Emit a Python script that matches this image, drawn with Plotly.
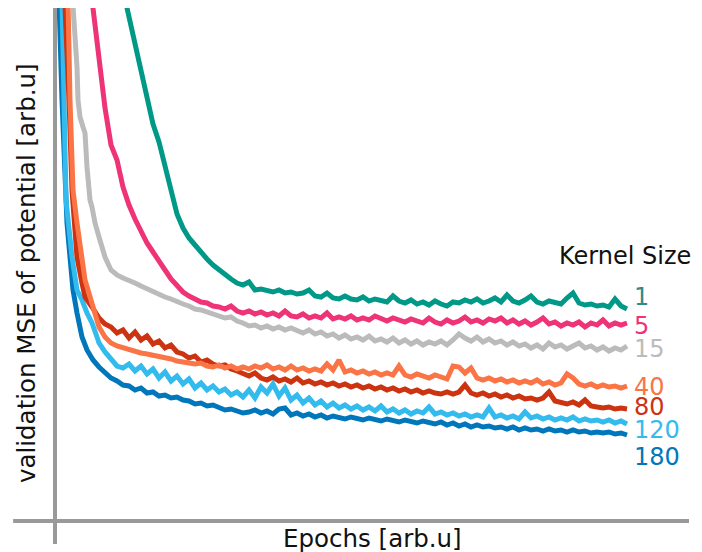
import plotly.graph_objects as go

# Epoch grid shared by the tails of all curves
grid_epochs = list(range(42, 571, 6))

kernel_sizes = ["1", "5", "15", "40", "80", "120", "180"]
colors = ["#009988", "#EE3377", "#BBBBBB", "#FA7445", "#CC3311", "#33BBEE", "#0077BB"]
label_colors = ["#338888", "#EE3377", "#BBBBBB", "#FA7445", "#CC3311", "#33BBEE", "#0077BB"]

# Early (steep) part of each curve: epochs and validation MSE [arb.u]
head_epochs = {
    "1": [],
    "5": [29, 35, 38],
    "15": [13, 16, 18, 20, 21, 23, 26, 28, 30, 33, 35, 38],
    "40": [9, 11, 13, 16, 20, 25, 28, 31, 35, 38],
    "80": [6, 8, 12, 15, 20, 25, 28, 35],
    "120": [3, 5, 9, 15, 20, 25, 30, 35, 40],
    "180": [0, 2, 5, 8, 10, 13, 16, 20, 25, 30, 36],
}
head_mse = {
    "1": [],
    "5": [571, 521, 488],
    "15": [561, 521, 488, 454, 421, 404, 394, 388, 354, 321, 314, 298],
    "40": [561, 521, 421, 331, 298, 264, 241, 231, 218, 204],
    "80": [561, 521, 421, 331, 264, 238, 224, 214],
    "120": [561, 521, 321, 264, 231, 221, 208, 198, 184],
    "180": [561, 521, 421, 326, 298, 264, 231, 208, 184, 171, 161],
}

mse_k1 = [638, 611, 584, 557, 530, 505, 479, 451, 421, 397, 379, 354, 329, 307, 293, 283,
          276, 268, 262, 256, 251, 247, 242, 238, 236, 239, 231, 232, 230, 229, 231, 228,
          229, 227, 228, 231, 225, 224, 228, 223, 222, 225, 222, 221, 224, 220, 222, 221,
          219, 225, 220, 218, 221, 217, 219, 216, 220, 217, 215, 219, 218, 221, 219, 222,
          218, 220, 223, 219, 226, 220, 218, 221, 225, 219, 217, 220, 218, 217, 223, 228,
          218, 216, 217, 215, 216, 214, 222, 215, 212]
mse_k5 = [454, 413, 376, 361, 334, 316, 302, 289, 278, 269, 261, 251, 242, 235, 229, 225,
          222, 219, 218, 215, 214, 212, 215, 210, 208, 210, 207, 209, 206, 208, 205, 210,
          205, 204, 207, 203, 205, 203, 208, 202, 204, 202, 205, 201, 203, 201, 205, 202,
          200, 203, 201, 199, 202, 200, 198, 203, 199, 197, 201, 198, 200, 204, 199, 201,
          198, 202, 200, 203, 198, 201, 197, 200, 196, 199, 203, 197, 199, 195, 198, 196,
          199, 194, 198, 196, 201, 195, 198, 196, 198]
mse_k15 = [284, 264, 251, 246, 243, 241, 238, 235, 232, 230, 227, 224, 222, 219, 217, 215,
           212, 211, 209, 207, 205, 203, 204, 200, 198, 195, 196, 193, 195, 192, 194, 191,
           193, 190, 188, 191, 187, 189, 185, 187, 183, 186, 182, 184, 181, 185, 180, 182,
           179, 183, 178, 181, 177, 180, 176, 179, 177, 180, 176, 181, 187, 183, 180, 184,
           179, 182, 178, 180, 176, 179, 175, 177, 173, 176, 172, 178, 174, 176, 172, 175,
           178, 173, 175, 171, 174, 170, 173, 171, 175]
mse_k40 = [194, 184, 178, 175, 173, 171, 170, 168, 167, 166, 164, 163, 162, 160, 159, 158,
           157, 158, 155, 154, 156, 153, 155, 152, 154, 152, 155, 153, 156, 152, 154, 151,
           155, 151, 153, 150, 152, 150, 157, 151, 161, 149, 151, 148, 150, 147, 149, 146,
           148, 146, 155, 146, 144, 147, 145, 143, 146, 144, 142, 155, 154, 148, 153, 143,
           141, 143, 140, 142, 139, 141, 138, 140, 138, 141, 137, 139, 136, 138, 147, 143,
           137, 135, 137, 134, 136, 134, 135, 133, 135]
mse_k80 = [203, 197, 194, 188, 191, 183, 189, 181, 185, 177, 180, 173, 176, 169, 167, 163,
           165, 159, 161, 157, 155, 156, 152, 150, 147, 145, 148, 143, 141, 144, 140, 142,
           139, 143, 138, 140, 137, 139, 136, 138, 135, 137, 134, 136, 133, 135, 132, 134,
           131, 133, 130, 132, 129, 131, 128, 130, 128, 127, 129, 127, 129, 136, 128, 126,
           128, 125, 127, 124, 126, 123, 125, 122, 123, 121, 123, 129, 120, 118, 117, 119,
           116, 121, 115, 114, 113, 114, 112, 113, 112]
mse_k120 = [178, 169, 161, 155, 153, 157, 150, 155, 147, 152, 143, 149, 140, 145, 137, 142,
            133, 138, 131, 135, 129, 132, 126, 129, 124, 131, 123, 134, 128, 137, 125, 133,
            121, 126, 118, 123, 116, 120, 114, 118, 113, 116, 112, 115, 111, 114, 110, 115,
            109, 112, 108, 111, 107, 110, 108, 114, 107, 109, 106, 108, 105, 107, 104, 106,
            104, 113, 104, 106, 103, 105, 102, 109, 103, 105, 102, 104, 101, 103, 101, 104,
            100, 102, 100, 101, 99, 101, 98, 100, 97]
mse_k180 = [154, 148, 143, 140, 136, 135, 131, 133, 128, 129, 125, 126, 123, 124, 121, 120,
            117, 118, 115, 116, 113, 111, 112, 110, 108, 109, 111, 108, 110, 107, 112, 113,
            106, 108, 105, 107, 104, 106, 103, 105, 104, 102, 104, 103, 101, 103, 102, 100,
            102, 101, 99, 101, 100, 98, 100, 99, 97, 99, 96, 98, 95, 97, 94, 96,
            94, 95, 93, 94, 92, 94, 91, 93, 91, 92, 90, 92, 90, 91, 89, 91,
            89, 90, 88, 89, 88, 89, 87, 88, 86]

tails = {"1": mse_k1, "5": mse_k5, "15": mse_k15, "40": mse_k40,
         "80": mse_k80, "120": mse_k120, "180": mse_k180}

label_mse = [224, 195, 172, 134, 114, 91, 64]
label_epoch = 575

fig = go.Figure()
# draw largest kernel first so smaller kernels sit on top
for k, c in reversed(list(zip(kernel_sizes, colors))):
    x = head_epochs[k] + grid_epochs
    y = head_mse[k] + tails[k]
    fig.add_trace(go.Scatter(x=x, y=y, mode="lines",
                             line=dict(color=c, width=5, shape="linear"),
                             showlegend=False, hoverinfo="skip"))

FONT = "DejaVu Sans"
for k, lc, ym in zip(kernel_sizes, label_colors, label_mse):
    fig.add_annotation(x=label_epoch, y=ym, xref="x", yref="y", text=k, showarrow=False,
                       xanchor="left", yanchor="middle",
                       font=dict(family=FONT, size=24, color=lc))

fig.add_annotation(x=500, y=265, xref="x", yref="y", text="Kernel Size", showarrow=False,
                   xanchor="left", yanchor="middle", font=dict(family=FONT, size=24, color="#111111"))

fig.add_annotation(x=0.5, y=-0.034, xref="paper", yref="paper", text="Epochs [arb.u]",
                   showarrow=False, xanchor="center", yanchor="middle",
                   font=dict(family=FONT, size=24.5, color="#111111"))
fig.add_annotation(x=-0.046, y=0.483, xref="paper", yref="paper",
                   text="validation MSE of potential [arb.u]", textangle=-90,
                   showarrow=False, xanchor="center", yanchor="middle",
                   font=dict(family=FONT, size=24.5, color="#111111"))

# spines extending beyond each other
fig.add_shape(type="line", xref="paper", yref="paper", x0=0, x1=0, y0=-0.045, y1=1.0,
              line=dict(color="#999999", width=4))
fig.add_shape(type="line", xref="paper", yref="paper", x0=-0.066, x1=1.0, y0=0, y1=0,
              line=dict(color="#999999", width=4))

# the page body adds an 8px offset, so the figure is sized/shifted to compensate
fig.update_layout(
    width=694, height=544,
    margin=dict(l=47, r=13, t=0, b=31),
    paper_bgcolor="white", plot_bgcolor="white",
    xaxis=dict(range=[-2, 632], showgrid=False, zeroline=False, showticklabels=False,
               ticks="", showline=False),
    yaxis=dict(range=[0, 513], showgrid=False, zeroline=False, showticklabels=False,
               ticks="", showline=False),
)

fig.write_html("out.html")
